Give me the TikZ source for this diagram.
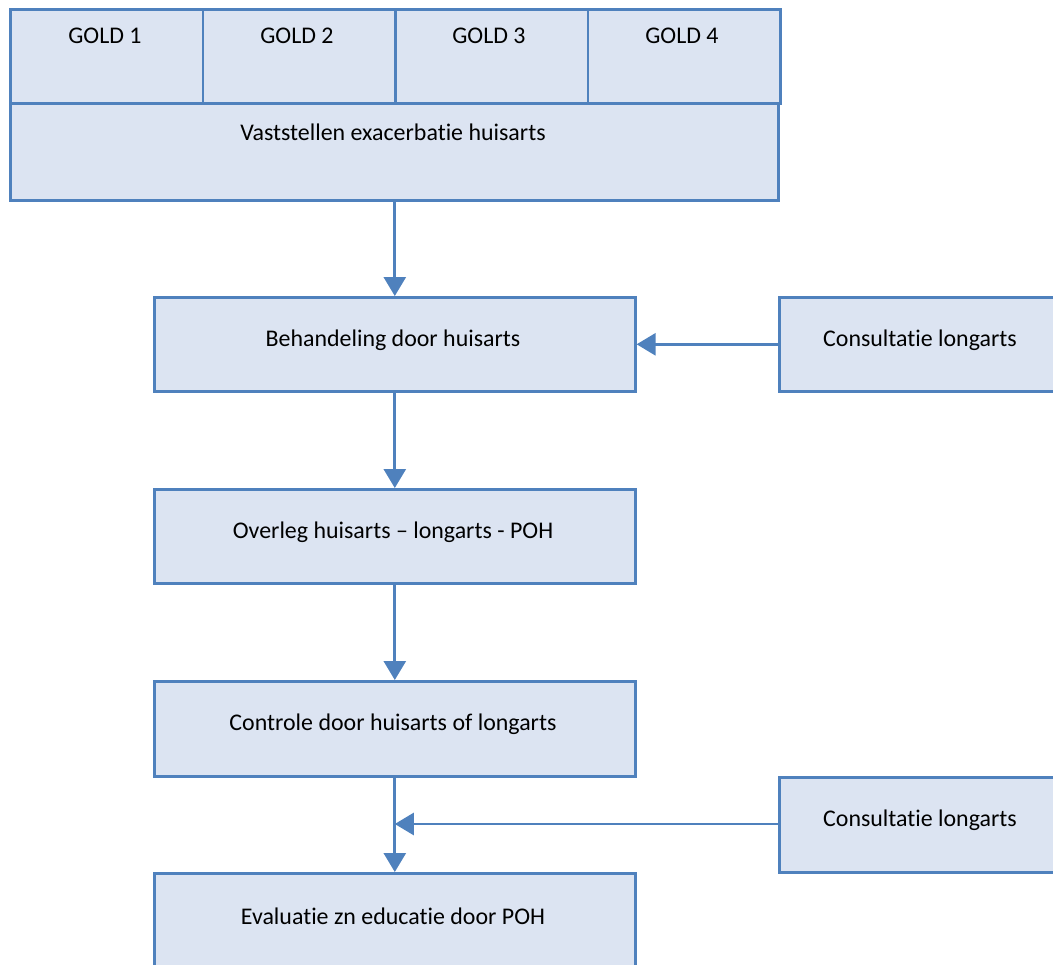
\documentclass[tikz,border=0pt]{standalone}
\usepackage{fontspec}
\setmainfont{Carlito}[Ligatures={NoCommon}]
\usetikzlibrary{arrows.meta}
\definecolor{edge}{HTML}{4F81BD}
\definecolor{boxfill}{HTML}{DCE4F2}
\begin{document}
\begin{tikzpicture}[x=1bp,y=-1bp,
  box/.style={draw=edge, fill=boxfill, line width=2.6bp, rectangle, inner sep=0pt, anchor=north west},
  lbl/.style={font=\fontsize{24}{28}\selectfont, inner sep=0pt},
  flow/.style={draw=edge, line width=2.8bp, -{Triangle[width=22bp,length=19bp]}}]
\useasboundingbox (0,0) rectangle (1053,965);
% header: GOLD classes above the diagnosis step
\node[box, minimum width=768bp, minimum height=97bp] (vast) at (9,102) {};
\node[box, minimum width=192.5bp, minimum height=94bp] (g1) at (9,8) {};
\node[box, minimum width=192.5bp, minimum height=94bp] (g2) at (201.5,8) {};
\node[box, minimum width=192.5bp, minimum height=94bp] (g3) at (394,8) {};
\node[box, minimum width=192.5bp, minimum height=94bp] (g4) at (586.5,8) {};
\node[lbl] (tg1) at (105,36) {GOLD 1};
\node[lbl] (tg2) at (297,36) {GOLD 2};
\node[lbl] (tg3) at (489,36) {GOLD 3};
\node[lbl] (tg4) at (682,36) {GOLD 4};
\node[lbl] (tvast) at (393,132) {Vaststellen exacerbatie huisarts};
% main flow
\node[box, minimum width=481bp, minimum height=94bp] (beh) at (153,296) {};
\node[box, minimum width=481bp, minimum height=94bp] (ovl) at (153,488) {};
\node[box, minimum width=481bp, minimum height=95bp] (ctl) at (153,680) {};
\node[box, minimum width=481bp, minimum height=110bp] (eva) at (153,872) {};
\node[lbl] (tbeh) at (393,340) {Behandeling door huisarts};
\node[lbl] (tovl) at (393,532) {Overleg huisarts – longarts - POH};
\node[lbl] (tctl) at (393,724) {Controle door huisarts of longarts};
\node[lbl] (teva) at (393,916) {Evaluatie zn educatie door POH};
% side consultations
\node[box, minimum width=290bp, minimum height=94bp] (con1) at (778,296) {};
\node[box, minimum width=290bp, minimum height=95bp] (con2) at (778,776) {};
\node[lbl] (tcon1) at (920,340) {Consultatie longarts};
\node[lbl] (tcon2) at (920,820) {Consultatie longarts};
% connectors
\draw[flow] (vast.south -| beh.north) -- (beh.north);
\draw[flow] (beh.south) -- (ovl.north);
\draw[flow] (ovl.south) -- (ctl.north);
\draw[flow] (ctl.south) -- (eva.north);
\draw[flow] (con1.west |- beh.east) -- (beh.east);
\draw[flow] (con2.west |- 0,824) -- (ctl.south |- 0,824);
\end{tikzpicture}
\end{document}
